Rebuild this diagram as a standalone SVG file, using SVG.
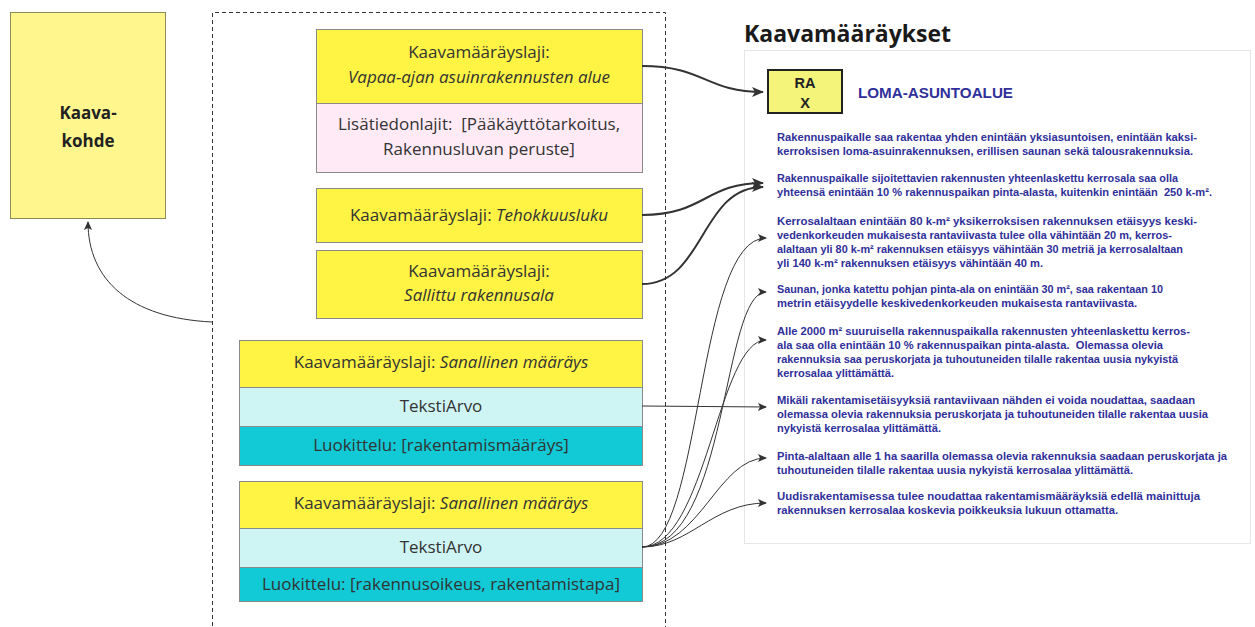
<svg xmlns="http://www.w3.org/2000/svg" width="1255" height="627" viewBox="0 0 1255 627">
  <style>
    .box { stroke: #8a8a8a; stroke-width: 1; }
    .yellow { fill: #fff344; }
    .pink { fill: #ffeaf6; }
    .cyan { fill: #cff4f4; }
    .teal { fill: #11cad5; }
    .lbl { font-family: "Open Sans", "Noto Sans", sans-serif; font-size: 17px; fill: #333333; text-anchor: middle; white-space: pre; }
    .it { font-style: italic; }
    .edge { fill: none; stroke: #333333; }
    .thick { stroke-width: 2; }
    .thin { stroke-width: 1; }
    .para { font-family: "Liberation Sans", Arial, sans-serif; font-weight: bold; font-size: 10.8px; fill: #30309a; white-space: pre; }
  </style>
  <defs>
    <marker id="arrowBig" viewBox="0 0 12 10" refX="11" refY="5" markerWidth="12" markerHeight="10" markerUnits="userSpaceOnUse" orient="auto">
      <path d="M0,0 L12,5 L0,10 L3,5 Z" fill="#333333"/>
    </marker>
    <marker id="arrowSmall" viewBox="0 0 9 8" refX="8" refY="4" markerWidth="9" markerHeight="8" markerUnits="userSpaceOnUse" orient="auto">
      <path d="M0,0 L9,4 L0,8 L2,4 Z" fill="#333333"/>
    </marker>
  </defs>

  <rect width="1255" height="627" fill="#ffffff"/>

  <!-- Kaavakohde -->
  <g id="kaavakohde">
    <rect x="10.5" y="12.5" width="155" height="206" fill="#fff68e" stroke="#8a8a5a"/>
    <text x="88" y="119" font-family="'Open Sans', sans-serif" font-weight="bold" font-size="17" fill="#222" text-anchor="middle">Kaava-</text>
    <text x="88" y="147" font-family="'Open Sans', sans-serif" font-weight="bold" font-size="17" fill="#222" text-anchor="middle">kohde</text>
  </g>

  <!-- Dashed container for the regulation group -->
  <g id="container">
    <path d="M212.5,640 V12.5 H665.5 V640" fill="none" stroke="#333333" stroke-dasharray="4 3"/>
  </g>

  <!-- Vapaa-ajan asuinrakennusten alue -->
  <g id="maarays-alue">
    <rect class="box yellow" x="316.5" y="29.5" width="326" height="74"/>
    <text class="lbl" x="479" y="58">Kaavamääräyslaji:</text>
    <text class="lbl it" x="479" y="83">Vapaa-ajan asuinrakennusten alue</text>
    <rect class="box pink" x="316.5" y="103.5" width="326" height="69"/>
    <text class="lbl" x="479" y="130" xml:space="preserve">Lisätiedonlajit:  [Pääkäyttötarkoitus,</text>
    <text class="lbl" x="479" y="155">Rakennusluvan peruste]</text>
  </g>

  <!-- Tehokkuusluku -->
  <g id="maarays-tehokkuus">
    <rect class="box yellow" x="316.5" y="188.5" width="326" height="54"/>
    <text class="lbl" x="479" y="221">Kaavamääräyslaji: <tspan class="it">Tehokkuusluku</tspan></text>
  </g>

  <!-- Sallittu rakennusala -->
  <g id="maarays-rakennusala">
    <rect class="box yellow" x="316.5" y="250.5" width="326" height="68"/>
    <text class="lbl" x="479" y="277">Kaavamääräyslaji:</text>
    <text class="lbl it" x="479" y="301">Sallittu rakennusala</text>
  </g>

  <!-- Sanallinen määräys 1 -->
  <g id="sanallinen-1">
    <rect class="box yellow" x="239.5" y="340.5" width="403" height="47"/>
    <text class="lbl" x="441" y="368">Kaavamääräyslaji: <tspan class="it">Sanallinen määräys</tspan></text>
    <rect class="box cyan" x="239.5" y="387.5" width="403" height="39"/>
    <text class="lbl" x="441" y="412">TekstiArvo</text>
    <rect class="box teal" x="239.5" y="426.5" width="403" height="39"/>
    <text class="lbl" x="441" y="451">Luokittelu: [rakentamismääräys]</text>
  </g>

  <!-- Sanallinen määräys 2 -->
  <g id="sanallinen-2">
    <rect class="box yellow" x="239.5" y="481.5" width="403" height="47"/>
    <text class="lbl" x="441" y="509">Kaavamääräyslaji: <tspan class="it">Sanallinen määräys</tspan></text>
    <rect class="box cyan" x="239.5" y="528.5" width="403" height="39"/>
    <text class="lbl" x="441" y="553">TekstiArvo</text>
    <rect class="box teal" x="239.5" y="567.5" width="403" height="34"/>
    <text class="lbl" x="441" y="590">Luokittelu: [rakennusoikeus, rakentamistapa]</text>
  </g>

  <!-- Plan regulation sheet -->
  <g id="kaavamaaraykset">
    <text x="744" y="42" font-family="'Open Sans', sans-serif" font-weight="bold" font-size="23" fill="#1a1a1a">Kaavamääräykset</text>
    <rect x="744.5" y="50.5" width="506" height="493" fill="#ffffff" stroke="#e6e6e6"/>
    <rect x="768" y="70" width="74" height="43" fill="#f4f37a" stroke="#222222" stroke-width="2"/>
    <text x="805" y="88" font-family="'Liberation Sans', Arial, sans-serif" font-weight="bold" font-size="14.5" fill="#222" text-anchor="middle">RA</text>
    <text x="805" y="108" font-family="'Liberation Sans', Arial, sans-serif" font-weight="bold" font-size="14.5" fill="#222" text-anchor="middle">X</text>
    <text x="858" y="98" font-family="'Liberation Sans', Arial, sans-serif" font-weight="bold" font-size="14.5" fill="#30309a" textLength="155" lengthAdjust="spacingAndGlyphs">LOMA-ASUNTOALUE</text>

    <text class="para" x="777" y="141" textLength="420" lengthAdjust="spacingAndGlyphs">Rakennuspaikalle saa rakentaa yhden enintään yksiasuntoisen, enintään kaksi-</text>
    <text class="para" x="777" y="155" textLength="416" lengthAdjust="spacingAndGlyphs">kerroksisen loma-asuinrakennuksen, erillisen saunan sekä talousrakennuksia.</text>

    <text class="para" x="777" y="182" textLength="401" lengthAdjust="spacingAndGlyphs">Rakennuspaikalle sijoitettavien rakennusten yhteenlaskettu kerrosala saa olla</text>
    <text class="para" x="777" y="196" textLength="435" lengthAdjust="spacingAndGlyphs" xml:space="preserve">yhteensä enintään 10 % rakennuspaikan pinta-alasta, kuitenkin enintään  250 k-m².</text>

    <text class="para" x="777" y="225" textLength="420" lengthAdjust="spacingAndGlyphs">Kerrosalaltaan enintään 80 k-m² yksikerroksisen rakennuksen etäisyys keski-</text>
    <text class="para" x="777" y="239" textLength="395" lengthAdjust="spacingAndGlyphs">vedenkorkeuden mukaisesta rantaviivasta tulee olla vähintään 20 m, kerros-</text>
    <text class="para" x="777" y="253" textLength="406" lengthAdjust="spacingAndGlyphs">alaltaan yli 80 k-m² rakennuksen etäisyys vähintään 30 metriä ja kerrosalaltaan</text>
    <text class="para" x="777" y="267" textLength="266" lengthAdjust="spacingAndGlyphs">yli 140 k-m² rakennuksen etäisyys vähintään 40 m.</text>

    <text class="para" x="777" y="293" textLength="386" lengthAdjust="spacingAndGlyphs">Saunan, jonka katettu pohjan pinta-ala on enintään 30 m², saa rakentaan 10</text>
    <text class="para" x="777" y="307" textLength="360" lengthAdjust="spacingAndGlyphs">metrin etäisyydelle keskivedenkorkeuden mukaisesta rantaviivasta.</text>

    <text class="para" x="777" y="335" textLength="413" lengthAdjust="spacingAndGlyphs">Alle 2000 m² suuruisella rakennuspaikalla rakennusten yhteenlaskettu kerros-</text>
    <text class="para" x="777" y="349" textLength="386" lengthAdjust="spacingAndGlyphs" xml:space="preserve">ala saa olla enintään 10 % rakennuspaikan pinta-alasta.  Olemassa olevia</text>
    <text class="para" x="777" y="363" textLength="401" lengthAdjust="spacingAndGlyphs">rakennuksia saa peruskorjata ja tuhoutuneiden tilalle rakentaa uusia nykyistä</text>
    <text class="para" x="777" y="377" textLength="117" lengthAdjust="spacingAndGlyphs">kerrosalaa ylittämättä.</text>

    <text class="para" x="777" y="404" textLength="418" lengthAdjust="spacingAndGlyphs">Mikäli rakentamisetäisyyksiä rantaviivaan nähden ei voida noudattaa, saadaan</text>
    <text class="para" x="777" y="418" textLength="431" lengthAdjust="spacingAndGlyphs">olemassa olevia rakennuksia peruskorjata ja tuhoutuneiden tilalle rakentaa uusia</text>
    <text class="para" x="777" y="432" textLength="164" lengthAdjust="spacingAndGlyphs">nykyistä kerrosalaa ylittämättä.</text>

    <text class="para" x="777" y="460" textLength="450" lengthAdjust="spacingAndGlyphs">Pinta-alaltaan alle 1 ha saarilla olemassa olevia rakennuksia saadaan peruskorjata ja</text>
    <text class="para" x="777" y="474" textLength="356" lengthAdjust="spacingAndGlyphs">tuhoutuneiden tilalle rakentaa uusia nykyistä kerrosalaa ylittämättä.</text>

    <text class="para" x="777" y="500" textLength="423" lengthAdjust="spacingAndGlyphs">Uudisrakentamisessa tulee noudattaa rakentamismääräyksiä edellä mainittuja</text>
    <text class="para" x="777" y="514" textLength="341" lengthAdjust="spacingAndGlyphs">rakennuksen kerrosalaa koskevia poikkeuksia lukuun ottamatta.</text>
  </g>

  <!-- Connectors -->
  <g id="connectors">
    <path class="edge thin" d="M212,322 C130,318 88,280 88,222" marker-end="url(#arrowSmall)"/>

    <path class="edge thick" d="M642,66 C705,66 705,92 763,92" marker-end="url(#arrowBig)"/>
    <path class="edge thick" d="M642,215 C705,215 705,183 763,183" marker-end="url(#arrowBig)"/>
    <path class="edge thick" d="M642,284 C705,284 700,187 763,187" marker-end="url(#arrowBig)"/>

    <path class="edge thin" d="M642,406 L766,407" marker-end="url(#arrowSmall)"/>

    <path class="edge thin" d="M642,547 C702,547 696,238 766,238" marker-end="url(#arrowSmall)"/>
    <path class="edge thin" d="M642,547 C728,547 722,292 766,292" marker-end="url(#arrowSmall)"/>
    <path class="edge thin" d="M642,547 C706,547 718,340 766,340" marker-end="url(#arrowSmall)"/>
    <path class="edge thin" d="M642,547 C700,547 718,458 766,458" marker-end="url(#arrowSmall)"/>
    <path class="edge thin" d="M642,547 C690,547 712,503 766,503" marker-end="url(#arrowSmall)"/>
  </g>
</svg>
